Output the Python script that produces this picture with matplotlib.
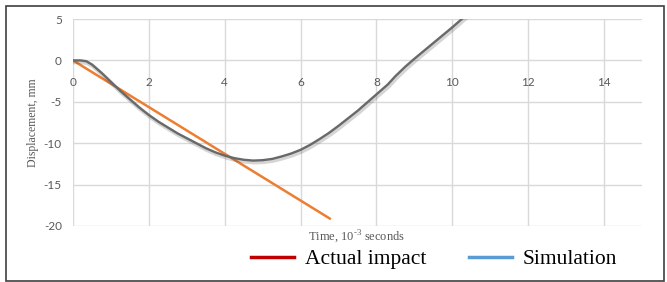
import matplotlib.pyplot as plt
import matplotlib.patheffects as pe
from matplotlib.lines import Line2D
from matplotlib.patches import Rectangle

# Simulation curve (gray)
sim_t = [0, 0.2, 0.35, 0.5, 0.75, 1.0, 1.25, 1.5, 1.75, 2.0, 2.25, 2.5, 2.75,
         3.0, 3.25, 3.5, 3.75, 4.0, 4.25, 4.5, 4.75, 5.0, 5.25, 5.5, 5.75,
         6.0, 6.25, 6.5, 6.75, 7.0, 7.25, 7.5, 7.75, 8.0, 8.15, 8.3, 8.5,
         8.75, 9.0, 9.5, 10.0, 10.4]
sim_d = [0, 0, -0.1, -0.5, -1.5, -2.6, -3.7, -4.7, -5.7, -6.6, -7.4, -8.1,
         -8.8, -9.4, -10.0, -10.6, -11.1, -11.5, -11.8, -12.0, -12.1, -12.05,
         -11.9, -11.6, -11.25, -10.8, -10.2, -9.5, -8.75, -7.9, -7.0, -6.1,
         -5.1, -4.1, -3.5, -2.9, -1.9, -0.8, 0.2, 2.1, 4.0, 5.6]

# Actual impact (orange straight line)
act_t = [0, 6.77]
act_d = [0, -19.1]

x_ticks = [0, 2, 4, 6, 8, 10, 12, 14]
y_ticks = [-20, -15, -10, -5, 0, 5]

plt.rcParams['mathtext.fontset'] = 'custom'
plt.rcParams['mathtext.rm'] = 'Liberation Serif'
plt.rcParams['axes.unicode_minus'] = False

fig = plt.figure(figsize=(6.67, 2.82), dpi=100)
ax = fig.add_axes([73 / 667, 1 - 226 / 282, 569 / 667, 207 / 282])

ax.plot(act_t, act_d, color='#ED7D31', lw=1.8, zorder=3)
ax.plot(sim_t, sim_d, color='#696969', lw=1.7, zorder=4,
        path_effects=[pe.SimpleLineShadow(offset=(0.8, -1.3), alpha=0.22,
                                          shadow_color='#444444', linewidth=3),
                      pe.Normal()])

ax.set_xlim(0, 15)
ax.set_ylim(-20, 5)
ax.set_xticks(x_ticks)
ax.set_yticks(y_ticks)
ax.grid(True, color='#d9d9d9', lw=1)
ax.set_axisbelow(True)
for s in ax.spines.values():
    s.set_visible(False)
ax.spines['bottom'].set_position(('data', 0))

ax.tick_params(axis='x', length=0, pad=12, labelsize=8.5, labelcolor='#595959')
ax.tick_params(axis='y', length=0, pad=8, labelsize=8.5, labelcolor='#595959')
for lab in ax.get_xticklabels() + ax.get_yticklabels():
    lab.set_family('Lato')

ax.set_ylabel('Displacement, mm', family='Liberation Serif', fontsize=8.5,
              color='#595959')
ax.yaxis.set_label_coords(-0.06, 0.5)
fig.text(357 / 667, 1 - 237 / 282, r'Time, 10$^{\text{-3}}$ seconds', family='Liberation Serif',
         fontsize=9, color='#595959', ha='center', va='center')

handles = [Line2D([], [], color='#C00000', lw=2.5),
           Line2D([], [], color='#5B9BD5', lw=2.5)]
fig.legend(handles, ['Actual impact', 'Simulation'], ncol=2, frameon=False,
           loc='center', bbox_to_anchor=(434 / 667, 1 - 259 / 282),
           prop={'family': 'Liberation Serif', 'size': 15.5},
           handlelength=2.0, handletextpad=0.5, columnspacing=2.0)

fig.patches.append(Rectangle((6 / 667, 1 / 282), 658 / 667, 275 / 282,
                             transform=fig.transFigure, fill=False,
                             edgecolor='#404040', lw=1.2))

fig.savefig('out.png', dpi=100)
